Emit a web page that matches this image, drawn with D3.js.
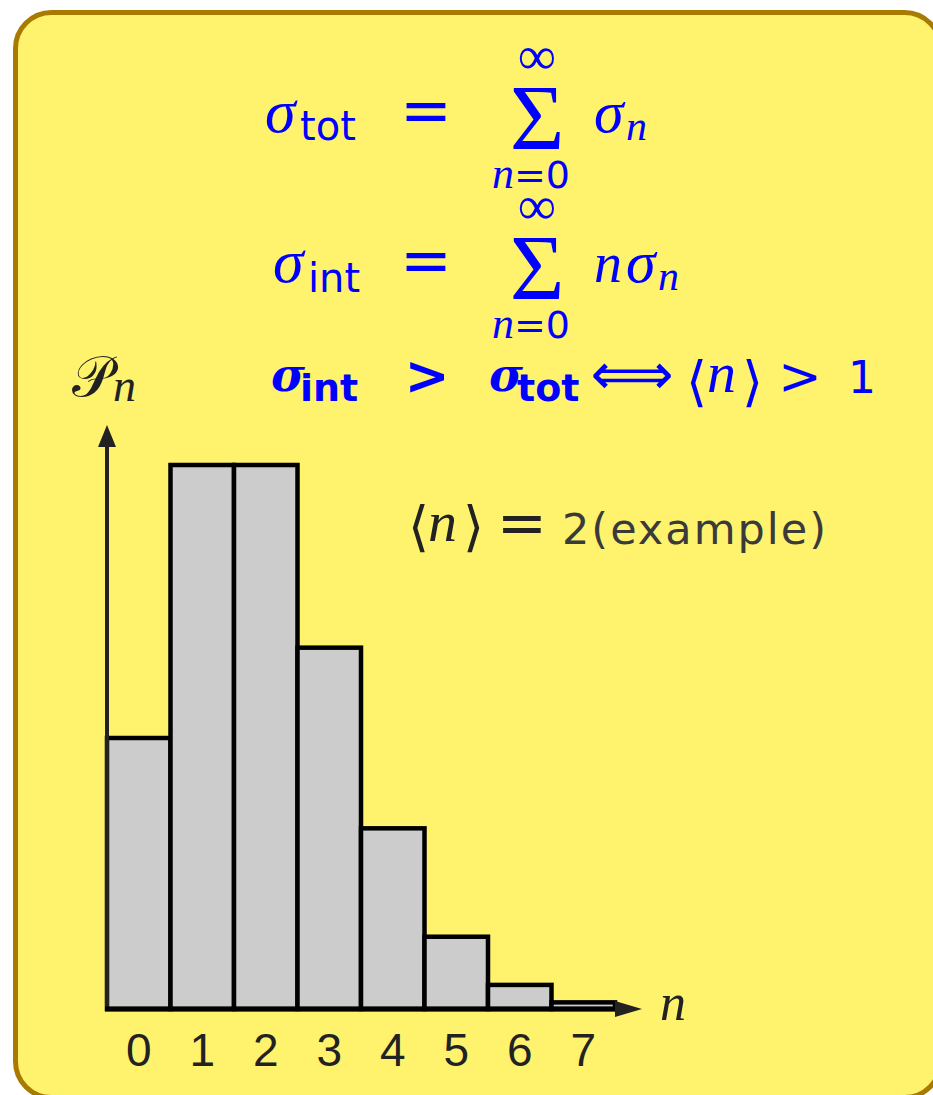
<!DOCTYPE html>
<html>
<head>
<meta charset="utf-8">
<script src="https://cdn.jsdelivr.net/npm/d3@7"></script>
<style>
  html, body { margin: 0; padding: 0; background: #fff; overflow: hidden; }
  svg { display: block; }
</style>
</head>
<body>
<div id="screen"></div>
<script>
// données (distribution de n, <n> = 2)
const categories = ['0', '1', '2', '3', '4', '5', '6', '7']
const probabilities = [0.135, 0.271, 0.271, 0.180, 0.090, 0.036, 0.012, 0.0033]
const tickLabels = ['0', '1', '2', '3', '4', '5', '6', '7']

const width = 933
const height = 1095
const blue = '#0000ff'
const ink = '#222222'
const serifIt = "'Liberation Serif', 'DejaVu Serif', serif"
const sans = "'DejaVu Sans', 'Liberation Sans', sans-serif"
const lsans = "'Liberation Sans', 'DejaVu Sans', sans-serif"

const svg = d3.select('#screen').append('svg')
  .attr('width', width)
  .attr('height', height)

// cadre jaune arrondi
svg.append('rect')
  .attr('x', 15.5)
  .attr('y', 12.5)
  .attr('width', 925)
  .attr('height', 1085)
  .attr('rx', 36)
  .attr('fill', '#fff36e')
  .attr('stroke', '#a87a00')
  .attr('stroke-width', 5)

// petite fonction pour écrire un morceau de texte
function txt (x, y, s, opt = {}) {
  return svg.append('text')
    .attr('x', x)
    .attr('y', y)
    .attr('font-family', opt.family || sans)
    .attr('font-size', opt.size || 40)
    .attr('font-style', opt.italic ? 'italic' : 'normal')
    .attr('font-weight', opt.bold ? 'bold' : 'normal')
    .attr('text-anchor', opt.anchor || 'start')
    .attr('letter-spacing', opt.spacing || 0)
    .attr('fill', opt.color || blue)
    .text(s)
}

// --- formules ---
// ligne 1
txt(265, 132, 'σ', { family: serifIt, italic: true, size: 62 })
txt(300, 140, 'tot', { size: 40 })
txt(426, 132, '=', { size: 62, anchor: 'middle' })
txt(537, 74, '∞', { family: serifIt, size: 54, anchor: 'middle' })
txt(537, 149, 'Σ', { family: serifIt, size: 94, anchor: 'middle' })
txt(514, 188, 'n', { family: serifIt, italic: true, size: 44, anchor: 'end' })
txt(514, 188, '=0', { size: 38 })
txt(594, 132, 'σ', { family: serifIt, italic: true, size: 60 })
txt(626, 140, 'n', { family: serifIt, italic: true, size: 42 })

// ligne 2
txt(273, 282, 'σ', { family: serifIt, italic: true, size: 62 })
txt(308, 292, 'int', { size: 40 })
txt(426, 282, '=', { size: 62, anchor: 'middle' })
txt(537, 224, '∞', { family: serifIt, size: 54, anchor: 'middle' })
txt(537, 299, 'Σ', { family: serifIt, size: 94, anchor: 'middle' })
txt(514, 338, 'n', { family: serifIt, italic: true, size: 44, anchor: 'end' })
txt(514, 338, '=0', { size: 38 })
txt(594, 282, 'n', { family: serifIt, italic: true, size: 56 })
txt(626, 282, 'σ', { family: serifIt, italic: true, size: 60 })
txt(658, 290, 'n', { family: serifIt, italic: true, size: 42 })

// ligne 3
txt(72, 396, '𝒫', { family: "'DejaVu Serif', serif", size: 56, color: ink })
txt(113, 401, 'n', { family: serifIt, italic: true, size: 46, color: ink })
txt(271, 391, 'σ', { family: "'DejaVu Serif', serif", italic: true, bold: true, size: 46 })
txt(300, 401, 'int', { size: 38, bold: true })
txt(427, 394, '>', { size: 54, anchor: 'middle', bold: true })
txt(489, 391, 'σ', { family: "'DejaVu Serif', serif", italic: true, bold: true, size: 46 })
txt(517, 401, 'tot', { size: 38, bold: true })
txt(632, 394, '⟺', { size: 58, anchor: 'middle' })
txt(686, 400, '⟨', { family: "'DejaVu Serif', serif", size: 54 })
txt(707, 392, 'n', { family: serifIt, italic: true, size: 58 })
txt(742, 400, '⟩', { family: "'DejaVu Serif', serif", size: 54 })
txt(800, 394, '>', { size: 52, anchor: 'middle' })
txt(848, 393, '1', { size: 44 })

// annotation
txt(408, 545, '⟨', { family: "'DejaVu Serif', serif", size: 54, color: ink })
txt(428, 541, 'n', { family: serifIt, italic: true, size: 58, color: ink })
txt(463, 545, '⟩', { family: "'DejaVu Serif', serif", size: 54, color: ink })
txt(522, 543, '=', { size: 60, anchor: 'middle', color: ink })
txt(562, 544, '2(example)', { size: 43, spacing: 2, color: '#3a3a3a' })

// --- histogramme ---
const x = d3.scaleBand()
  .domain(categories)
  .range([107, 615])
  .padding(0)

const y = d3.scaleLinear()
  .domain([0, 0.271])
  .range([1009, 465])

svg.append('g')
  .selectAll('rect')
  .data(probabilities)
  .join('rect')
  .attr('x', (d, i) => x(categories[i]))
  .attr('y', d => y(d))
  .attr('width', x.bandwidth())
  .attr('height', d => y(0) - y(d))
  .attr('fill', '#cccccc')
  .attr('stroke', '#000')
  .attr('stroke-width', 4.5)

// axes avec flèches
const axisColor = '#222'
svg.append('line')
  .attr('x1', 107).attr('y1', y(0))
  .attr('x2', 107).attr('y2', 445)
  .attr('stroke', axisColor).attr('stroke-width', 4)
svg.append('path')
  .attr('d', 'M107,425 L98,447 L116,447 Z')
  .attr('fill', axisColor)

svg.append('line')
  .attr('x1', 105).attr('y1', y(0))
  .attr('x2', 618).attr('y2', y(0))
  .attr('stroke', '#000').attr('stroke-width', 5)
svg.append('path')
  .attr('d', `M642,${y(0)} L615,${y(0) - 8} L615,${y(0) + 8} Z`)
  .attr('fill', axisColor)

txt(660, 1020, 'n', { family: serifIt, italic: true, size: 52, color: ink })

// étiquettes de l'axe
const xAxis = svg.append('g')
  .attr('transform', `translate(0,${y(0)})`)
  .call(d3.axisBottom(x).tickSize(0).tickPadding(0).tickFormat((d, i) => tickLabels[i]))
xAxis.select('.domain').remove()
xAxis.selectAll('text')
  .attr('y', 57)
  .attr('dy', 0)
  .attr('font-family', lsans)
  .attr('font-size', 46)
  .attr('fill', ink)
</script>
</body>
</html>
